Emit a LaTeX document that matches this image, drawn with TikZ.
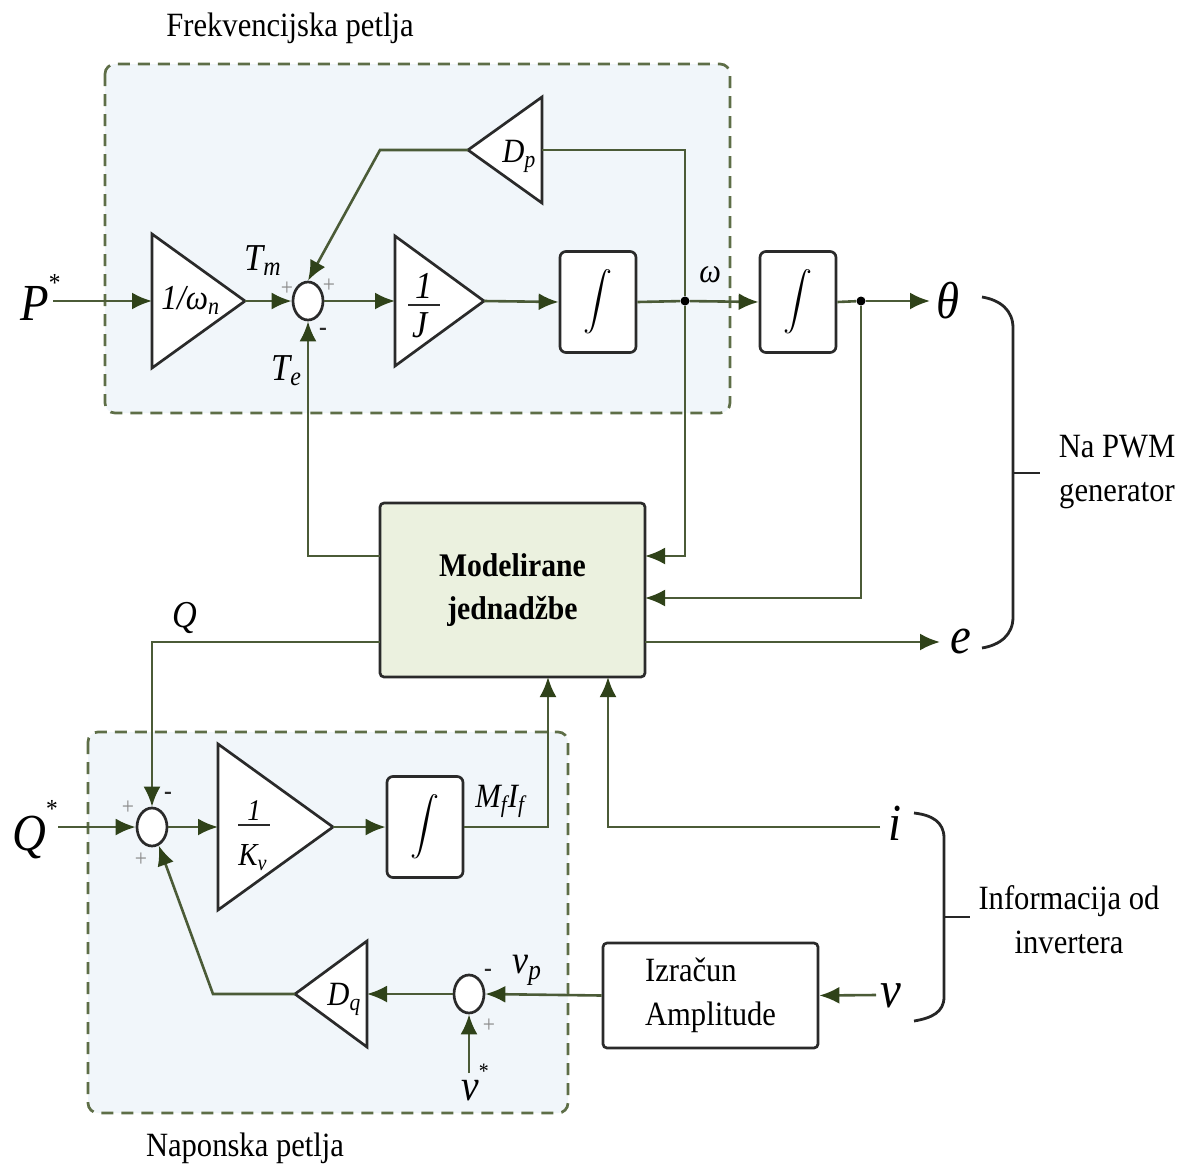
\documentclass[tikz,border=0pt]{standalone}
\usepackage{fontspec}
\setmainfont{Liberation Serif}[FakeStretch=0.9]
\usepackage{graphicx}
\usetikzlibrary{arrows.meta,shapes.geometric,calc}
\definecolor{lineC}{HTML}{4B5B37}
\definecolor{arrC}{HTML}{2F4219}
\definecolor{dashC}{HTML}{5E6E47}
\definecolor{boxfill}{HTML}{F1F6FA}
\definecolor{modfill}{HTML}{EBF1DF}
\definecolor{shpC}{HTML}{2A2A2A}
\definecolor{plusC}{HTML}{8A8A8A}
\newcommand{\ssub}[1]{\textsubscript{\textit{#1}}}
\newcommand{\intsym}{\scalebox{1.45}{$\displaystyle\int$}}
\begin{document}
\begin{tikzpicture}[x=0.5pt,y=-0.5pt,
  conn/.style={draw=lineC,line width=1.3pt},
  arr/.style={conn,-{Latex[length=10pt,width=8.5pt,color=arrC]}},
  shp/.style={draw=shpC,line width=1.35pt,fill=white},
  intbox/.style={shp,rectangle,rounded corners=3pt,minimum width=38pt,minimum height=50.5pt,inner sep=0pt},
  sumnode/.style={shp,ellipse,minimum width=15pt,minimum height=19pt,inner sep=0pt},
  loopbox/.style={draw=dashC,line width=1.35pt,dash pattern=on 6pt off 4pt,fill=boxfill,rounded corners=5pt},
  big/.style={font=\fontsize{26}{26}\selectfont\itshape,inner sep=0pt},
  mid/.style={font=\fontsize{18}{18}\selectfont\itshape,inner sep=0pt},
  txt/.style={font=\fontsize{17}{22}\selectfont,inner sep=0pt,align=center},
  plus/.style={font=\fontsize{12}{12}\selectfont,text=plusC,inner sep=0pt},
  minus/.style={font=\fontsize{13}{13}\selectfont\bfseries,text=shpC,inner sep=0pt},
  dot/.style={circle,fill=black,inner sep=0pt,minimum size=4.5pt},
  brace/.style={draw=black!85,line width=1.4pt},
  fbar/.style={draw=shpC,line width=1.1pt},
]
\useasboundingbox (0,0) rectangle (1184,1168);
% loop boxes
\draw[loopbox] (105,64) rectangle (730,413);
\draw[loopbox] (88,732) rectangle (568,1113);
\node[txt] (t1) at (290,28) {Frekvencijska petlja};
\node[txt] (t2) at (245,1148) {Naponska petlja};
% triangles
\draw[shp] (152,234) -- (245,301) coordinate (g1t) -- (152,368) -- cycle;
\coordinate (g1l) at (152,301);
\node[mid,font=\fontsize{17.5}{17.5}\selectfont\itshape,anchor=base west] (g1lab) at (161,309) {1/ω\ssub{n}};
\draw[shp] (395,236) -- (484,301) coordinate (gJt) -- (395,366) -- cycle;
\coordinate (gJl) at (395,301);
\node[mid,font=\fontsize{19}{19}\selectfont\itshape,anchor=base] (gJnum) at (424,298) {1};
\draw[fbar] (408,305) -- (440,305);
\node[mid,font=\fontsize{19}{19}\selectfont\itshape,anchor=base] (gJden) at (420,337) {J};
\draw[shp] (468,150) coordinate (gDt) -- (542,97) -- (542,203) -- cycle;
\coordinate (gDr) at (542,150);
\node[mid,font=\fontsize{17}{17}\selectfont\itshape,anchor=base west] (gDlab) at (502,162) {D\ssub{p}};
\draw[shp] (218,744) -- (333,827) coordinate (gKt) -- (218,910) -- cycle;
\coordinate (gKl) at (218,827);
\node[mid,font=\fontsize{15}{15}\selectfont\itshape,anchor=base] (gKnum) at (254,820) {1};
\draw[fbar] (238,825) -- (270,825);
\node[mid,font=\fontsize{16}{16}\selectfont\itshape,anchor=base west] (gKden) at (238,865) {K\ssub{v}};
\draw[shp] (295,994) coordinate (gQt) -- (367,941) -- (367,1047) -- cycle;
\coordinate (gQr) at (367,994);
\node[mid,font=\fontsize{17}{17}\selectfont\itshape,anchor=base west] (gQlab) at (327,1005) {D\ssub{q}};
% blocks
\node[sumnode] (s1) at (308,301) {};
\node[intbox] (int1) at (598,302) {\intsym};
\node[intbox] (int2) at (798,302) {\intsym};
\node[intbox] (int3) at (425,827) {\intsym};
\node[shp,rectangle,rounded corners=2pt,fill=modfill,minimum width=132.5pt,minimum height=87pt,txt,font=\fontsize{16.5}{21.5}\selectfont\bfseries] (model) at (512.5,590) {Modelirane\\jednadžbe};
\node[sumnode] (s2) at (152,827) {};
\node[sumnode] (s3) at (469,994) {};
\node[shp,rectangle,rounded corners=2pt,minimum width=107.5pt,minimum height=52.5pt,txt,align=left] (amp) at (710.5,995.5) {Izračun\\Amplitude};
\node[dot] (j1) at (685,301) {};
\node[dot] (j2) at (861,301) {};
% labels
\node[big,anchor=base west] (Pl) at (20,320) {P\raisebox{0.55em}{\fontsize{13}{13}\selectfont\upshape *}};
\node[big,anchor=base west] (Ql) at (12,850) {Q\raisebox{0.62em}{\fontsize{13}{13}\selectfont\upshape *}};
\node[big,anchor=base west] (thl) at (936,318) {θ};
\node[big,anchor=base west] (el) at (950,653) {e};
\node[big,anchor=base west] (il) at (888,840) {i};
\node[big,anchor=base west] (vl) at (880,1007) {v};
\node[mid,font=\fontsize{17}{17}\selectfont\itshape,anchor=base west] (wl) at (699,282) {ω};
\node[mid,font=\fontsize{19}{19}\selectfont\itshape,anchor=base west] (Tml) at (244,270) {T\ssub{m}};
\node[mid,font=\fontsize{19}{19}\selectfont\itshape,anchor=base west] (Tel) at (271,380) {T\ssub{e}};
\node[mid,font=\fontsize{19}{19}\selectfont\itshape,anchor=base west] (Qfl) at (172,627) {Q};
\node[mid,font=\fontsize{17}{17}\selectfont\itshape,anchor=base west] (MIl) at (475,807) {M\ssub{f}I\ssub{f}};
\node[mid,font=\fontsize{20}{20}\selectfont\itshape,anchor=base west] (vpl) at (512,973) {v\ssub{p}};
\node[mid,font=\fontsize{22}{22}\selectfont\itshape,anchor=base west] (vsl) at (461,1100) {v\raisebox{0.5em}{\fontsize{11}{11}\selectfont\upshape *}};
% signs
\node[plus] (p1) at (287,289) {+};
\node[plus] (p2) at (329,286) {+};
\node[minus] (m1) at (323,332) {-};
\node[plus] (p3) at (128,808) {+};
\node[minus] (m2) at (168,796) {-};
\node[plus] (p4) at (141,860) {+};
\node[minus] (m3) at (488,973) {-};
\node[plus] (p5) at (489,1026) {+};
% free ends
\coordinate (Pin) at (53,301);
\coordinate (Qin) at (58,827);
\coordinate (thT) at (930,301);
\coordinate (eT) at (940,642);
\coordinate (iS) at (880,827);
\coordinate (vS) at (876,995);
\coordinate (vsS) at (469,1073);
\coordinate (mR1) at (645,556);
\coordinate (mR2) at (645,598);
\coordinate (mR3) at (645,642);
\coordinate (mL1) at (380,556);
\coordinate (mL3) at (380,642);
\coordinate (mB1) at (548,677);
\coordinate (mB2) at (608,677);
\coordinate (fbk) at (380,150);
\coordinate (fbk2) at (213,994);
% connectors
\draw[arr] (Pin) -- (g1l);
\draw[arr] (g1t) -- (s1.west);
\draw[arr] (s1.east) -- (gJl);
\draw[arr] (gJt) -- (int1.west);
\draw[conn] (int1.east) -- (j1);
\draw[arr] (j1) -- (int2.west);
\draw[conn] (int2.east) -- (j2);
\draw[arr] (j2) -- (thT);
\draw[arr] (j1) |- (mR1);
\draw[conn] (j1) |- (gDr);
\draw[arr] (gDt) -- (fbk) -- (s1.north);
\draw[arr] (mL1) -| (s1.south);
\draw[arr] (j2) |- (mR2);
\draw[arr] (mR3) -- (eT);
\draw[arr] (mL3) -| (s2.north);
\draw[arr] (Qin) -- (s2.west);
\draw[arr] (s2.east) -- (gKl);
\draw[arr] (gKt) -- (int3.west);
\draw[arr] (int3.east) -| (mB1);
\draw[arr] (iS) -| (mB2);
\draw[arr] (vS) -- (amp.east);
\draw[arr] (amp.west) -- (s3.east);
\draw[arr] (s3.west) -- (gQr);
\draw[arr] (gQt) -- (fbk2) -- (s2.-70);
\draw[arr] (vsS) -- (s3.south);
% braces
\draw[brace] (982,297) .. controls (1000,300) and (1013,310) .. (1013,328) -- (1013,617) .. controls (1013,635) and (1000,645) .. (982,648);
\draw[brace] (1013,473) -- (1040,473);
\draw[brace] (914,813) .. controls (932,815) and (944,822) .. (944,838) -- (944,997) .. controls (944,1012) and (932,1018) .. (914,1021);
\draw[brace] (944,917) -- (970,917);
\node[txt] (pwm) at (1117,472) {Na PWM\\generator};
\node[txt] (inv) at (1069,920) {Informacija od\\invertera};
\end{tikzpicture}
\end{document}
